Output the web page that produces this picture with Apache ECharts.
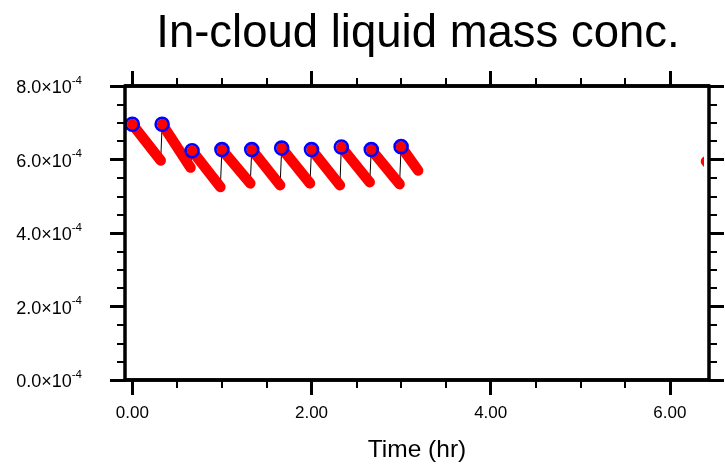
<!DOCTYPE html>
<html>
<head>
<meta charset="utf-8">
<script src="https://cdn.jsdelivr.net/npm/echarts@6/dist/echarts.min.js"></script>
<style>
html,body{margin:0;padding:0;background:#fff;}
#chart{width:725px;height:464px;}
</style>
</head>
<body>
<div id="chart"></div>
<script>
// ---- data (values in units of 1e-4) ----
const segStartT = [0.000, 0.333, 0.667, 1.000, 1.333, 1.667, 2.000, 2.333, 2.667, 3.000];
const segStartV = [6.96, 6.96, 6.24, 6.27, 6.27, 6.31, 6.27, 6.34, 6.27, 6.35];
const segEndT   = [0.317, 0.650, 0.983, 1.317, 1.650, 1.983, 2.317, 2.650, 2.983, 3.190];
const segEndV   = [5.97, 5.78, 5.25, 5.35, 5.30, 5.35, 5.30, 5.38, 5.33, 5.70];
const tailT = [6.403, 6.600];
const tailV = [5.95, 5.40];
const xMajorTicks = [0, 2, 4, 6];
const xMinorTicks = [0.5, 1, 1.5, 2.5, 3, 3.5, 4.5, 5, 5.5];
const yTickLabels = ['0.0', '2.0', '4.0', '6.0', '8.0'];
const UNIT = 1e-4;

// ---- build series data ----
const redData = [];
const blackData = [];
const circleData = [];
for (let i = 0; i < segStartT.length; i++) {
  redData.push([segStartT[i], segStartV[i] * UNIT]);
  redData.push([segEndT[i], segEndV[i] * UNIT]);
  redData.push([segEndT[i], '-']);
  blackData.push([segStartT[i], segStartV[i] * UNIT]);
  blackData.push([segEndT[i], segEndV[i] * UNIT]);
  circleData.push([segStartT[i], segStartV[i] * UNIT]);
}
const tailData = tailT.map((t, i) => [t, tailV[i] * UNIT]);

const FONT = '"Liberation Sans", Arial, Helvetica, sans-serif';
const GRID_L = 125, GRID_R = 16, GRID_T = 86, GRID_B = 84;
const XMIN = -0.0815, XMAX = 6.4365;
const PX_PER_X = (725 - GRID_L - GRID_R) / (XMAX - XMIN);
// second (clip) grid for the tail that is cut by the frame
const GRID2_R = 27;
const XMAX2 = XMIN + (725 - GRID_L - GRID2_R) / PX_PER_X;

const LINE = {show: true, onZero: false, lineStyle: {color: '#000', width: 3.5}};

function xAxisDef(pos, ticks, len, w, labels) {
  return {
    type: 'value', position: pos, min: XMIN, max: XMAX, gridIndex: 0,
    axisLine: LINE,
    splitLine: {show: false},
    axisTick: {show: true, inside: false, length: len, lineStyle: {color: '#000', width: w}, customValues: ticks},
    axisLabel: labels ? {
      show: true, customValues: ticks, margin: 25,
      fontFamily: FONT, fontSize: 17, color: '#000',
      formatter: v => v.toFixed(2)
    } : {show: false},
    z: 10
  };
}

function yAxisDef(pos, labels) {
  return {
    type: 'value', position: pos, min: 0, max: 8 * UNIT, interval: 2 * UNIT, gridIndex: 0,
    axisLine: LINE,
    splitLine: {show: false},
    axisTick: {show: true, inside: false, length: 15, lineStyle: {color: '#000', width: 3}},
    minorTick: {show: true, splitNumber: 4, length: 8, lineStyle: {color: '#000', width: 2}},
    minorSplitLine: {show: false},
    axisLabel: labels ? {
      show: true, margin: 43, fontFamily: FONT, color: '#000',
      formatter: v => {
        const idx = Math.round(v / (2 * UNIT));
        return '{m|' + yTickLabels[idx] + '×10}{s|-4}';
      },
      rich: {
        m: {fontFamily: FONT, fontSize: 18, color: '#000', lineHeight: 23, verticalAlign: 'bottom'},
        s: {fontFamily: FONT, fontSize: 11.5, color: '#000', lineHeight: 23, verticalAlign: 'top'}
      }
    } : {show: false},
    z: 10
  };
}

const xb = xAxisDef('bottom', xMajorTicks, 15, 3, true);
xb.name = 'Time (hr)';
xb.nameLocation = 'middle';
xb.nameGap = 58;
xb.nameTextStyle = {fontFamily: FONT, fontSize: 24.5, color: '#000'};

const hiddenAxis = {show: false, splitLine: {show: false}, axisLine: {show: false}, axisTick: {show: false}, axisLabel: {show: false}};

const option = {
  animation: false,
  backgroundColor: '#fff',
  title: {
    text: 'In-cloud liquid mass conc.',
    left: 413, top: 6, textAlign: 'center',
    textStyle: {fontFamily: FONT, fontSize: 45.5, fontWeight: 'normal', color: '#000'}
  },
  grid: [
    {left: GRID_L, right: GRID_R, top: GRID_T, bottom: GRID_B, containLabel: false, outerBoundsMode: 'none'},
    {left: GRID_L, right: GRID2_R, top: GRID_T, bottom: GRID_B, containLabel: false, outerBoundsMode: 'none'}
  ],
  xAxis: [
    xb,
    xAxisDef('bottom', xMinorTicks, 8, 2, false),
    xAxisDef('top', xMajorTicks, 15, 3, false),
    xAxisDef('top', xMinorTicks, 8, 2, false),
    Object.assign({type: 'value', gridIndex: 1, min: XMIN, max: XMAX2}, hiddenAxis)
  ],
  yAxis: [
    yAxisDef('left', true),
    yAxisDef('right', false),
    Object.assign({type: 'value', gridIndex: 1, min: 0, max: 8 * UNIT}, hiddenAxis)
  ],
  series: [
    {
      type: 'line', xAxisIndex: 0, yAxisIndex: 0, data: blackData,
      showSymbol: false, symbol: 'none', silent: true,
      lineStyle: {color: '#000', width: 1}, z: 2
    },
    {
      type: 'line', xAxisIndex: 0, yAxisIndex: 0, data: redData,
      showSymbol: false, symbol: 'none', connectNulls: false, silent: true,
      lineStyle: {color: '#ff0000', width: 10.5, cap: 'round', join: 'round'}, z: 3
    },
    {
      type: 'line', xAxisIndex: 4, yAxisIndex: 2, data: tailData,
      showSymbol: false, symbol: 'none', silent: true, clip: true,
      lineStyle: {color: '#ff0000', width: 10.5, cap: 'round', join: 'round'}, z: 3
    },
    {
      type: 'scatter', xAxisIndex: 0, yAxisIndex: 0, data: circleData,
      symbol: 'circle', symbolSize: 13, silent: true,
      itemStyle: {color: 'rgba(0,0,0,0)', borderColor: '#0000ff', borderWidth: 2.6, opacity: 1}, z: 4
    }
  ]
};

const chart = echarts.init(document.getElementById('chart'), null, {renderer: 'canvas'});
chart.setOption(option);
</script>
</body>
</html>
